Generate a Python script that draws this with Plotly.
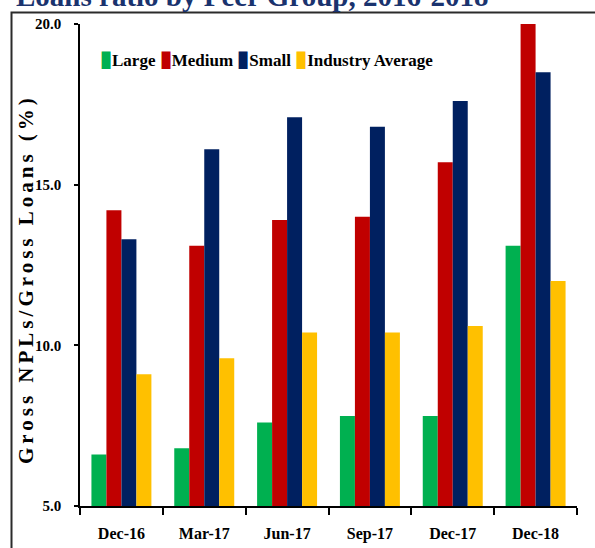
import plotly.graph_objects as go

periods = ["Dec-16", "Mar-17", "Jun-17", "Sep-17", "Dec-17", "Dec-18"]
large = [6.6, 6.8, 7.6, 7.8, 7.8, 13.1]
medium = [14.2, 13.1, 13.9, 14.0, 15.7, 20.0]
small = [13.3, 16.1, 17.1, 16.8, 17.6, 18.5]
industry = [9.1, 9.6, 10.4, 10.4, 10.6, 12.0]
y_ticks = [5, 10, 15, 20]

series_names = ["Large", "Medium", "Small", "Industry Average"]
series_colors = ["#00B050", "#C00000", "#002060", "#FFC000"]
series_values = [large, medium, small, industry]

FONT = "Liberation Serif"

fig = go.Figure()
for name, vals, col in zip(series_names, series_values, series_colors):
    fig.add_trace(go.Bar(
        x=periods, y=vals, name=name, showlegend=False,
        marker=dict(color=col, line=dict(width=0)),
    ))

W, H = 595, 548
ml, mr, mt, mb = 80, 18, 24, 42
pw, ph = W - ml - mr, H - mt - mb

def px_x(p):
    return (p - ml) / pw

def px_y(p):
    return (H - mb - p) / ph

legend_text = "&nbsp;".join(
    f"<span style='color:{c};font-size:22px'>▮</span>{n}"
    for n, c in zip(series_names, series_colors)
)

fig.update_layout(
    width=W, height=H,
    margin=dict(l=ml, r=mr, t=mt, b=mb, pad=0, autoexpand=False),
    paper_bgcolor="white", plot_bgcolor="white",
    barmode="group", bargap=0.276, bargroupgap=0,
    font=dict(family=FONT, color="black"),
    showlegend=False,
    xaxis=dict(
        type="category", showline=True, linecolor="black", linewidth=1.5,
        ticks="outside", tickson="boundaries", ticklen=7, tickcolor="black",
        tickwidth=1.5, showgrid=False, zeroline=False, automargin=False,
        tickfont=dict(family=FONT, size=16, color="black", weight="bold"),
        ticklabelstandoff=12,
    ),
    yaxis=dict(
        range=[5, 20], tickvals=y_ticks, tickformat=".1f",
        showline=True, linecolor="black", linewidth=1.5,
        ticks="outside", ticklen=4, tickcolor="black", tickwidth=1.5,
        showgrid=False, zeroline=False, automargin=False,
        tickfont=dict(family=FONT, size=15, color="black", weight="bold"),
        ticklabelstandoff=10,
    ),
    annotations=[
        dict(
            text=legend_text,
            xref="paper", yref="paper", x=px_x(98), y=px_y(59),
            xanchor="left", yanchor="middle", showarrow=False,
            font=dict(family=FONT, size=17, color="black", weight="bold"),
        ),
        dict(
            text="<span style='letter-spacing:4px'>Gross NPLs/Gross Loans (%)</span>",
            textangle=-90,
            xref="paper", yref="paper", x=px_x(26), y=px_y(279),
            xanchor="center", yanchor="middle", showarrow=False,
            font=dict(family=FONT, size=21, color="black", weight="bold"),
        ),
        dict(
            text="Loans ratio by Peer Group, 2016-2018",
            xref="paper", yref="paper", x=px_x(14), y=px_y(14),
            xanchor="left", yanchor="bottom", showarrow=False,
            font=dict(family=FONT, size=29, color="#1A336E", weight="bold"),
        ),
    ],
    shapes=[
        dict(
            type="rect", xref="paper", yref="paper",
            x0=px_x(11.5), x1=px_x(640), y0=px_y(600), y1=px_y(12.5),
            line=dict(color="#2B2B2B", width=2), fillcolor="rgba(0,0,0,0)",
            layer="below",
        ),
    ],
)

fig.write_html(
    "out.html",
    config={"displayModeBar": False},
    post_script="document.body.style.margin='0px';",
)
